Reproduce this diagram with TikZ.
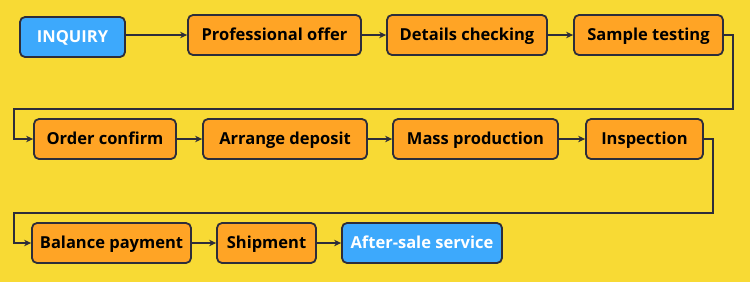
\documentclass[tikz,border=0pt]{standalone}
\usepackage{fontspec}
\setmainfont{Open Sans}
\usetikzlibrary{arrows.meta}
\definecolor{bgyellow}{HTML}{F8DA34}
\definecolor{boxorange}{HTML}{FFA425}
\definecolor{boxblue}{HTML}{3DA9FC}
\definecolor{linedark}{HTML}{2D2D3A}
\tikzset{
    stepbox/.style={draw=linedark, line width=1.8pt, rounded corners=5pt, fill=boxorange,
        minimum height=40pt, inner sep=0pt, text height=11.8pt, text depth=0pt,
        font=\fontsize{16.5}{19}\selectfont\bfseries, text=black},
    endbox/.style={stepbox, fill=boxblue, text=white},
    flow/.style={draw=linedark, line width=2.4pt, -{Stealth[length=7pt, width=6.5pt]}}
}

\begin{document}
\begin{tikzpicture}[x=1pt, y=-1pt]
    \useasboundingbox[fill=bgyellow] (0,0) rectangle (750,282);

    % First row
    \node[endbox, minimum width=105pt] (inquiry) at (72.5,37) {INQUIRY};
    \node[stepbox, minimum width=173pt] (offer) at (274.5,35) {Professional offer};
    \node[stepbox, minimum width=160pt] (checking) at (467,35) {Details checking};
    \node[stepbox, minimum width=149pt] (testing) at (648.5,35) {Sample testing};

    % Second row
    \node[stepbox, minimum width=142pt] (confirm) at (105,139) {Order confirm};
    \node[stepbox, minimum width=164pt] (deposit) at (285,139) {Arrange deposit};
    \node[stepbox, minimum width=165pt] (production) at (475.5,139) {Mass production};
    \node[stepbox, minimum width=117pt] (inspection) at (644.5,139) {Inspection};

    % Third row
    \node[stepbox, minimum width=159pt] (balance) at (111.5,243) {Balance payment};
    \node[stepbox, minimum width=99pt] (shipment) at (266.5,243) {Shipment};
    \node[endbox, minimum width=160pt] (aftersale) at (422,243) {After-sale service};

    % Turning points
    \coordinate (turnA) at (733,109);
    \coordinate (turnB) at (713,213);

    \draw[flow] (inquiry.east |- offer.west) -- (offer.west);
    \draw[flow] (offer) -- (checking);
    \draw[flow] (checking) -- (testing);
    \draw[flow] (testing.east) -| (turnA) -- (14,109) |- (confirm.west);
    \draw[flow] (confirm) -- (deposit);
    \draw[flow] (deposit) -- (production);
    \draw[flow] (production) -- (inspection);
    \draw[flow] (inspection.east) -| (turnB) -- (14,213) |- (balance.west);
    \draw[flow] (balance) -- (shipment);
    \draw[flow] (shipment) -- (aftersale);
\end{tikzpicture}
\end{document}
